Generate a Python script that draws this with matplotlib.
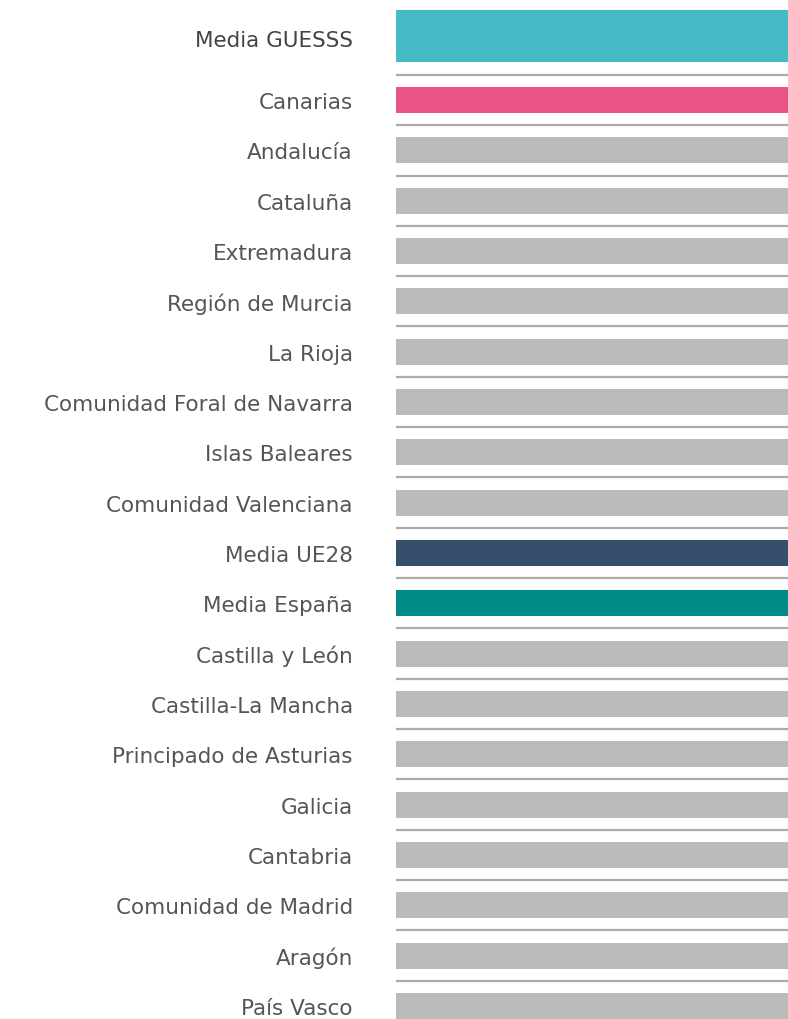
import matplotlib.pyplot as plt
import numpy as np

regions = ['Media GUESSS', 'Canarias', 'Andalucía', 'Cataluña', 'Extremadura',
           'Región de Murcia', 'La Rioja', 'Comunidad Foral de Navarra',
           'Islas Baleares', 'Comunidad Valenciana', 'Media UE28', 'Media España',
           'Castilla y León', 'Castilla-La Mancha', 'Principado de Asturias',
           'Galicia', 'Cantabria', 'Comunidad de Madrid', 'Aragón', 'País Vasco']
# the bars are cut off at the right edge in the picture, values only keep the order
values = [19, 20, 19.6, 19.2, 18.8, 18.4, 18.0, 17.6, 17.2, 16.8, 16.4,
          16.0, 15.6, 15.2, 14.8, 14.4, 14.0, 13.6, 13.2, 12.8]

grey = '#bbbbbb'
colors = {'Media GUESSS': '#46bac5', 'Canarias': '#e95485',
          'Media UE28': '#364f6b', 'Media España': '#008a87'}

fig = plt.figure(figsize=(7.88, 10.2), dpi=100)
fig.patch.set_facecolor('white')
ax = fig.add_axes([396 / 788, 0, 1 - 396 / 788, 1])

# first row is taller and sits a bit higher than the regular grid
pos = np.array([-1.27] + list(range(len(regions) - 1)), dtype=float)
heights = [1.03] + [0.52] * (len(regions) - 1)
bar_colors = [colors.get(r, grey) for r in regions]

ax.barh(pos, values, height=heights, color=bar_colors, zorder=2)

for p in pos[1:]:
    ax.axhline(p - 0.5, color='#ababab', lw=1.6, zorder=1)

ax.set_xlim(0, 12)
ax.set_ylim(18.26, -2.007)
ax.set_yticks(pos[1:], regions[1:])
ax.tick_params(axis='y', length=0, pad=31)
ax.set_xticks([])
for lab in ax.get_yticklabels():
    lab.set_fontsize(15.5)
    lab.set_color('#555555')
    lab.set_family('DejaVu Sans')

# header row label, placed slightly under the bar centre like the original
ax.annotate(regions[0], xy=(0, pos[0] + 0.08), xycoords=('axes fraction', 'data'),
            xytext=(-31 * 100 / 72, 0), textcoords='offset pixels',
            ha='right', va='center', fontsize=15.5, color='#444444',
            family='DejaVu Sans')
for s in ax.spines.values():
    s.set_visible(False)

plt.savefig('out.png', dpi=100, facecolor='white')
